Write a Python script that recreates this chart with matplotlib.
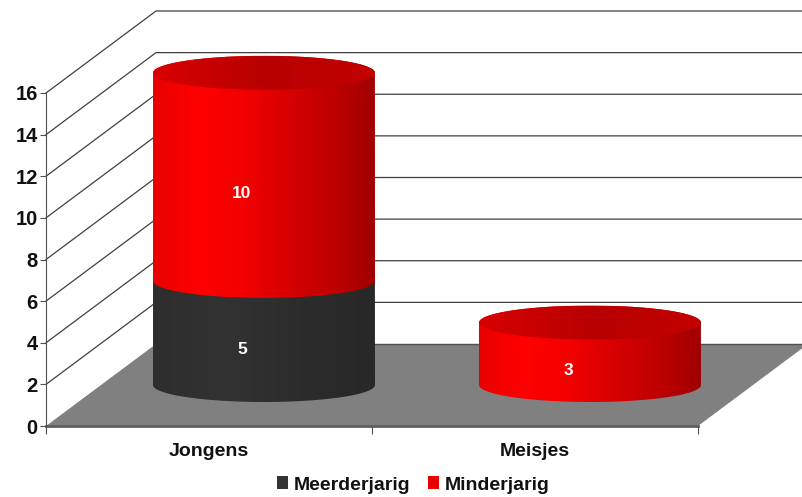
import numpy as np
from matplotlib import pyplot as plt
from matplotlib.colors import LinearSegmentedColormap
from matplotlib.patches import PathPatch, Patch, Polygon
from matplotlib.path import Path

categories = ['Jongens', 'Meisjes']
meerderjarig = [5, 0]
minderjarig = [10, 3]
yticks = [0, 2, 4, 6, 8, 10, 12, 14, 16]

plt.rcParams['font.family'] = ['Liberation Sans', 'DejaVu Sans']
plt.rcParams['font.weight'] = 'bold'

W, H = 803, 497
fig = plt.figure(figsize=(W / 100, H / 100), dpi=100, facecolor='white')
ax = fig.add_axes([46 / W, (H - 426) / H, 652 / W, 333 / H])
ax.set_xlim(-0.5, 1.5)
ax.set_ylim(0, 16)
ax.set_facecolor('none')

# oblique depth of the fake 3d box, in data units
px_x = 652 / 2
px_y = 333 / 16
dep_x = 110 / px_x
dep_y = 82 / px_y

# floor
ax.add_patch(Polygon([(-0.5, 0), (1.5, 0), (1.5 + dep_x, dep_y), (-0.5 + dep_x, dep_y)],
                     closed=True, fc='#808080', ec='none', clip_on=False, zorder=1))
ax.plot([-0.5, 1.5], [0, 0], color='#606060', lw=2, clip_on=False, zorder=1.5)
ax.plot([-0.5 + dep_x, 1.5 + dep_x], [dep_y, dep_y], color='#505050', lw=1, clip_on=False, zorder=1.5)

# grid on side wall and back wall
for v in yticks[1:]:
    ax.plot([-0.5, -0.5 + dep_x, 1.5 + dep_x], [v, v + dep_y, v + dep_y],
            color='#404040', lw=0.9, clip_on=False, zorder=1)

red_side = LinearSegmentedColormap.from_list('rs', ['#e80000', '#ff0000', '#f40000', '#d80000', '#c00000', '#a00000'])
red_top = LinearSegmentedColormap.from_list('rt', ['#d80000', '#c80000', '#b80000', '#bc0000', '#c40000'])
dark_side = LinearSegmentedColormap.from_list('ds', ['#2e2e2e', '#323232', '#2c2c2c', '#282828'])
half_w = 111 / px_x
half_h = 17 / px_y
theta = np.linspace(0, np.pi, 80)
gradient = np.linspace(0, 1, 256).reshape(1, -1)


def fill(verts, cmap, y0, y1, cx, z):
    patch = PathPatch(Path(verts), fc='none', ec='none', transform=ax.transData, clip_on=False)
    ax.add_patch(patch)
    im = ax.imshow(gradient, cmap=cmap, aspect='auto', zorder=z,
                   extent=[cx - half_w, cx + half_w, y0, y1])
    im.set_clip_box(fig.bbox)
    im.set_clip_path(patch)


def segment(i, start, stop, cmap, z, top):
    cx = i + dep_x / 2
    y_base = start + dep_y / 2
    y_top = stop + dep_y / 2
    bx = cx - half_w * np.cos(theta)
    by = y_base - half_h * np.sin(theta)
    tx = cx + half_w * np.cos(theta)
    ty = y_top + half_h * np.sin(theta)
    verts = np.column_stack([np.r_[bx, tx, bx[0]], np.r_[by, ty, by[0]]])
    fill(verts, cmap, y_base - half_h, y_top + half_h, cx, z)
    if top:
        ex = cx + half_w * np.cos(2 * theta)
        ey = y_top + half_h * np.sin(2 * theta)
        fill(np.column_stack([ex, ey]), red_top, y_top - half_h, y_top + half_h, cx, z + 0.1)


for i in range(len(categories)):
    base = meerderjarig[i]
    if base > 0:
        segment(i, 0, base, dark_side, 3, False)
        ax.text(i + dep_x * 0.3, base / 2 + dep_y * 0.3, str(base), color='white',
                ha='center', va='center', fontsize=12.5, zorder=6)
    segment(i, base, base + minderjarig[i], red_side, 4, True)
    ax.text(i + dep_x * 0.3, base + minderjarig[i] / 2 + dep_y * 0.3, str(minderjarig[i]),
            color='white', ha='center', va='center', fontsize=12.5, zorder=6)

ax.set_xlim(-0.5, 1.5)
ax.set_ylim(0, 16)

for s in ['top', 'right']:
    ax.spines[s].set_visible(False)
ax.spines['left'].set_color('#505050')
ax.spines['bottom'].set_visible(False)

ax.set_yticks(yticks)
ax.tick_params(axis='y', labelsize=14.5, length=4, color='#505050', pad=2, labelcolor='#111111')
ax.set_xticks([-0.5, 0.5, 1.5])
ax.set_xticklabels([])
ax.tick_params(axis='x', which='major', length=6, color='#505050')
ax.set_xticks([0, 1], minor=True)
ax.set_xticklabels(categories, minor=True)
ax.tick_params(axis='x', which='minor', length=0, labelsize=14, pad=12, labelcolor='#111111')

handles = [Patch(fc='#333333', label='Meerderjarig'), Patch(fc='#e80000', label='Minderjarig')]
fig.legend(handles=handles, loc='center', bbox_to_anchor=(413 / W, (H - 485) / H), ncol=2,
           frameon=False, fontsize=14, handlelength=0.6, handleheight=0.65,
           handletextpad=0.27, columnspacing=0.9, labelcolor='#111111')

fig.savefig('out.png', dpi=100, facecolor='white')
